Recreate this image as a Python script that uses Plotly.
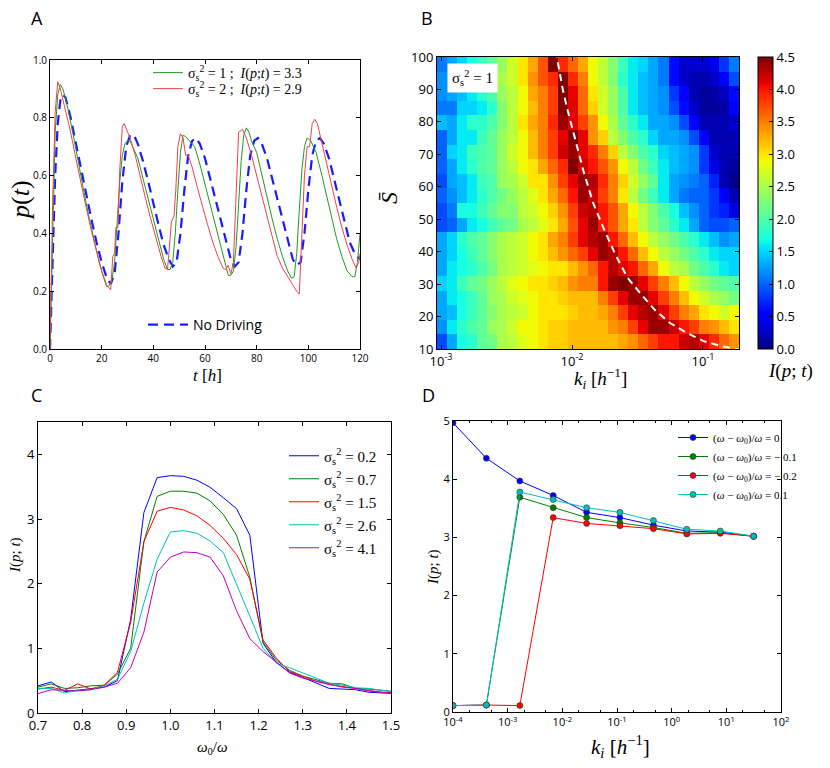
import numpy as np
import plotly.graph_objects as go

W, H = 830, 768
SANS = "Open Sans"
SERIF = "Liberation Serif"

# ----- Panel A: p(t) -----
t_green = [0, 0.5, 1, 2, 3, 4, 5, 7, 9, 11, 13, 15, 17, 19, 21, 22, 23, 24, 25, 26, 27, 28, 29, 30, 31, 32,
           34, 36, 38, 40, 42, 44, 45.5, 46.5, 47.5, 48.5, 49.5, 50.5, 51.5, 52.5, 54, 56, 58, 60, 62, 64,
           66, 68, 69, 70, 71, 72, 73, 74, 75, 76, 77, 78, 80, 82, 84, 86, 88, 90, 92, 93.5, 94.5, 95.5,
           96.5, 97.5, 98.5, 99.5, 101, 103, 105, 107, 109, 111, 113, 115, 117, 118, 119, 120]
p_green = [0.0, 0.2, 0.45, 0.75, 0.88, 0.915, 0.9, 0.83, 0.74, 0.64, 0.55, 0.46, 0.38, 0.30, 0.24, 0.215, 0.22,
           0.24, 0.30, 0.45, 0.58, 0.67, 0.71, 0.72, 0.72, 0.70, 0.66, 0.59, 0.52, 0.45, 0.38, 0.31, 0.275,
           0.275, 0.30, 0.40, 0.55, 0.68, 0.74, 0.735, 0.72, 0.70, 0.64, 0.57, 0.49, 0.42, 0.35, 0.28, 0.255,
           0.255, 0.27, 0.35, 0.50, 0.65, 0.74, 0.765, 0.75, 0.72, 0.68, 0.60, 0.52, 0.45, 0.38, 0.32, 0.27,
           0.245, 0.25, 0.33, 0.48, 0.62, 0.70, 0.73, 0.72, 0.68, 0.61, 0.53, 0.45, 0.38, 0.32, 0.27, 0.25,
           0.25, 0.30, 0.40]

t_red = [0, 0.5, 1, 2, 3, 4, 6, 8, 10, 12, 14, 16, 18, 20, 22, 23.5, 24.3, 25, 25.5, 26.3, 27, 28, 28.7, 29.5,
         31, 33, 35, 37, 39, 41, 43, 44.5, 45.5, 46.2, 47, 48, 48.7, 49.5, 50.5, 51.5, 52.5, 53.5, 55, 57, 59,
         61, 63, 65, 67, 68, 69, 70, 71, 72, 73, 74.5, 76, 78, 80, 82, 84, 86, 88, 90, 92, 94, 95.5, 96.5,
         97.5, 98.5, 99.5, 100.5, 101.5, 102.5, 103.5, 105, 107, 109, 111, 113, 115, 117, 118.5, 119.5, 120]
p_red = [0.0, 0.25, 0.5, 0.82, 0.925, 0.90, 0.83, 0.75, 0.66, 0.57, 0.49, 0.41, 0.34, 0.27, 0.22, 0.205, 0.32,
         0.33, 0.42, 0.42, 0.62, 0.77, 0.78, 0.76, 0.73, 0.67, 0.59, 0.52, 0.45, 0.38, 0.32, 0.28, 0.275, 0.35,
         0.44, 0.46, 0.55, 0.70, 0.745, 0.73, 0.67, 0.67, 0.63, 0.56, 0.49, 0.43, 0.37, 0.32, 0.28, 0.275, 0.29,
         0.26, 0.30, 0.55, 0.75, 0.76, 0.73, 0.67, 0.60, 0.52, 0.45, 0.38, 0.32, 0.28, 0.25, 0.22, 0.20, 0.19,
         0.40, 0.60, 0.70, 0.70, 0.78, 0.795, 0.78, 0.72, 0.64, 0.56, 0.49, 0.42, 0.36, 0.31, 0.28, 0.30, 0.33]

t_nodrive = [0, 1, 2, 3, 4, 5, 6, 8, 10, 12, 14, 16, 18, 20, 22, 23.5, 25, 26.5, 28, 29.5, 31, 32.5, 34, 36, 38,
             40, 42, 44, 46, 47.5, 49, 50.5, 52, 53.5, 55, 56.5, 58, 60, 62, 64, 66, 68, 70, 71.5, 73, 74.5,
             76, 77.5, 79, 80.5, 82, 84, 86, 88, 90, 92, 94, 95.5, 97, 98.5, 100, 101.5, 103, 104.5, 106, 108,
             110, 112, 114, 116, 118, 120]
p_nodrive = [0.0, 0.3, 0.6, 0.78, 0.86, 0.88, 0.87, 0.80, 0.71, 0.62, 0.53, 0.45, 0.37, 0.30, 0.245, 0.225,
             0.26, 0.40, 0.58, 0.70, 0.74, 0.74, 0.71, 0.65, 0.58, 0.50, 0.43, 0.36, 0.31, 0.285, 0.30, 0.40,
             0.55, 0.67, 0.72, 0.73, 0.71, 0.66, 0.59, 0.51, 0.44, 0.37, 0.31, 0.285, 0.30, 0.40, 0.55, 0.67,
             0.72, 0.73, 0.71, 0.66, 0.59, 0.51, 0.44, 0.37, 0.31, 0.29, 0.30, 0.40, 0.55, 0.67, 0.72, 0.73,
             0.71, 0.66, 0.59, 0.51, 0.44, 0.37, 0.33, 0.31]

# ----- Panel B: I(p;t) over k_i (30 cols) and S (20 rows, top row = S 100) -----
info_rows = [
    [1.1, 1.3, 1.5, 1.7, 1.9, 2.1, 2.4, 2.7, 3.0, 3.3, 3.7, 4.5, 3.9, 3.6, 3.3, 2.9, 2.6, 2.3, 1.9, 1.6, 1.5, 1.3, 1.1, 0.6, 0.3, 0.3, 0.3, 0.4, 0.8, 1.1],
    [1.2, 1.3, 1.5, 1.7, 1.9, 2.2, 2.5, 2.7, 3.0, 3.4, 3.7, 3.9, 4.5, 3.9, 3.5, 2.9, 2.6, 2.3, 1.8, 1.6, 1.4, 1.3, 1.1, 0.6, 0.3, 0.2, 0.2, 0.3, 0.5, 0.9],
    [1.2, 1.3, 1.4, 1.6, 1.8, 2.0, 2.4, 2.6, 2.9, 3.3, 3.5, 3.8, 4.5, 4.1, 3.6, 3.0, 2.7, 2.4, 2.0, 1.6, 1.4, 1.3, 1.2, 0.8, 0.5, 0.2, 0.1, 0.15, 0.25, 0.6],
    [1.1, 1.1, 1.5, 1.5, 1.6, 1.8, 2.3, 2.6, 2.9, 3.2, 3.5, 3.8, 4.5, 4.1, 3.6, 3.1, 2.7, 2.4, 2.0, 1.6, 1.4, 1.3, 1.2, 0.9, 0.6, 0.3, 0.1, 0.1, 0.15, 0.5],
    [1.4, 1.3, 1.6, 1.8, 1.8, 2.0, 2.3, 2.6, 3.0, 3.3, 3.5, 3.9, 4.4, 4.1, 3.8, 3.4, 2.9, 2.5, 2.1, 1.8, 1.6, 1.3, 1.3, 1.2, 0.9, 0.5, 0.2, 0.2, 0.2, 0.3],
    [1.0, 1.3, 1.6, 1.6, 1.9, 2.1, 2.4, 2.6, 2.9, 3.2, 3.5, 3.8, 4.1, 4.5, 4.1, 3.4, 3.1, 2.6, 2.3, 2.0, 1.8, 1.5, 1.3, 1.3, 1.2, 0.9, 0.5, 0.2, 0.2, 0.2],
    [1.0, 1.5, 1.6, 1.9, 2.0, 2.1, 2.4, 2.7, 2.9, 3.2, 3.5, 3.8, 4.2, 4.4, 4.1, 3.9, 3.5, 3.1, 2.6, 2.3, 2.0, 1.8, 1.5, 1.4, 1.3, 1.2, 0.8, 0.3, 0.2, 0.2],
    [1.0, 1.3, 1.6, 1.8, 2.0, 2.1, 2.4, 2.6, 2.9, 3.0, 3.3, 3.6, 3.9, 4.5, 4.2, 4.0, 3.7, 3.4, 2.9, 2.6, 2.2, 1.9, 1.6, 1.4, 1.3, 1.2, 0.8, 0.4, 0.2, 0.1],
    [0.9, 1.3, 1.4, 1.6, 1.9, 2.0, 2.4, 2.5, 2.7, 3.0, 3.0, 3.4, 3.8, 4.1, 4.4, 4.3, 3.9, 3.5, 3.1, 2.7, 2.4, 2.1, 1.6, 1.3, 1.2, 1.1, 1.0, 0.7, 0.2, 0.05],
    [1.0, 1.2, 1.4, 1.6, 1.8, 2.0, 2.2, 2.4, 2.6, 2.8, 3.0, 3.3, 3.6, 4.0, 4.4, 4.2, 3.8, 3.5, 3.0, 2.6, 2.2, 1.9, 1.6, 1.3, 1.1, 1.0, 1.0, 0.8, 0.5, 0.2],
    [0.9, 1.1, 1.7, 1.7, 1.9, 2.1, 2.3, 2.3, 2.6, 2.7, 2.9, 3.1, 3.4, 3.8, 4.2, 4.3, 4.0, 3.7, 3.3, 2.9, 2.6, 2.3, 2.0, 1.7, 1.4, 1.2, 1.0, 0.8, 0.7, 0.4],
    [0.9, 1.0, 1.3, 1.6, 1.7, 1.9, 2.1, 2.2, 2.5, 2.6, 2.8, 3.0, 3.3, 3.7, 4.1, 4.4, 4.0, 3.7, 3.3, 3.0, 2.6, 2.3, 2.1, 1.8, 1.6, 1.3, 1.0, 0.9, 0.9, 1.0],
    [1.3, 1.5, 1.8, 2.0, 2.1, 2.3, 2.5, 2.6, 2.7, 2.9, 3.0, 3.3, 3.5, 3.8, 4.1, 4.3, 4.4, 4.0, 3.6, 3.2, 2.9, 2.6, 2.4, 2.2, 2.0, 1.8, 1.6, 1.4, 1.2, 1.3],
    [1.3, 1.5, 1.7, 1.9, 2.1, 2.3, 2.5, 2.6, 2.7, 2.9, 3.0, 3.2, 3.4, 3.6, 3.8, 4.1, 4.4, 4.3, 4.0, 3.6, 3.2, 2.9, 2.6, 2.4, 2.2, 2.0, 1.8, 1.6, 1.5, 1.5],
    [1.3, 1.6, 1.7, 1.8, 2.0, 2.2, 2.5, 2.6, 2.7, 2.8, 2.9, 3.0, 3.0, 3.2, 3.4, 3.6, 4.0, 4.3, 4.1, 4.0, 3.6, 3.3, 2.9, 2.6, 2.5, 2.2, 2.0, 1.8, 1.6, 1.5],
    [1.5, 1.6, 1.9, 2.1, 2.2, 2.4, 2.6, 2.8, 2.9, 3.0, 3.0, 3.1, 3.2, 3.4, 3.5, 3.5, 4.0, 4.4, 4.6, 4.4, 4.1, 3.8, 3.5, 3.2, 2.9, 2.6, 2.4, 2.2, 2.1, 2.0],
    [1.3, 1.6, 1.7, 1.9, 2.1, 2.4, 2.5, 2.7, 2.8, 2.9, 3.0, 3.0, 3.1, 3.2, 3.2, 3.2, 3.5, 3.8, 4.1, 4.4, 4.4, 4.1, 3.8, 3.5, 3.2, 2.9, 2.7, 2.5, 2.4, 2.2],
    [1.3, 1.4, 1.7, 1.9, 2.1, 2.3, 2.5, 2.6, 2.7, 2.9, 3.0, 3.0, 3.0, 3.1, 3.2, 3.2, 3.3, 3.5, 3.8, 4.1, 4.3, 4.4, 4.1, 3.8, 3.5, 3.3, 3.0, 2.9, 2.7, 2.9],
    [1.2, 1.6, 1.8, 2.0, 2.1, 2.4, 2.5, 2.7, 2.9, 2.9, 3.0, 3.1, 3.1, 3.2, 3.2, 3.2, 3.2, 3.4, 3.5, 3.8, 4.1, 4.4, 4.4, 4.2, 4.0, 3.8, 3.5, 3.4, 3.2, 3.0],
    [0.9, 1.3, 1.7, 1.8, 2.1, 2.2, 2.5, 2.6, 2.8, 2.9, 3.0, 3.1, 3.1, 3.2, 3.2, 3.2, 3.2, 3.2, 3.3, 3.4, 3.6, 3.8, 4.0, 4.0, 4.2, 4.3, 4.1, 3.9, 3.6, 3.4],
]
k_curve = [0.0075, 0.0078, 0.0085, 0.0092, 0.0105, 0.0122, 0.0145, 0.0175, 0.0215, 0.0265, 0.0335,
           0.0430, 0.0560, 0.0750, 0.1000, 0.1400, 0.1900]
s_curve = [102, 98, 90, 84, 75, 65, 55, 47, 39, 32, 27, 22, 18, 15, 12.5, 10.8, 9.8]

# ----- Panel C: I(p;t) vs w0/w -----
w_ratio = [0.70, 0.73, 0.76, 0.79, 0.82, 0.85, 0.88, 0.91, 0.94, 0.97, 1.00, 1.03, 1.06, 1.09, 1.12, 1.15,
           1.18, 1.21, 1.24, 1.27, 1.30, 1.33, 1.36, 1.39, 1.42, 1.45, 1.48, 1.51]
sigma_labels = ["0.2", "0.7", "1.5", "2.6", "4.1"]
info_c = [
    [0.42, 0.48, 0.33, 0.35, 0.38, 0.40, 0.50, 1.45, 3.10, 3.64, 3.67, 3.66, 3.60, 3.49, 3.33, 3.16, 2.75, 1.08,
     0.78, 0.63, 0.55, 0.46, 0.38, 0.37, 0.36, 0.32, 0.31, 0.30],
    [0.40, 0.45, 0.38, 0.39, 0.42, 0.43, 0.60, 1.00, 2.65, 3.35, 3.43, 3.43, 3.40, 3.28, 3.07, 2.75, 2.10, 1.10,
     0.82, 0.66, 0.57, 0.51, 0.46, 0.45, 0.38, 0.37, 0.35, 0.33],
    [0.37, 0.40, 0.35, 0.45, 0.37, 0.43, 0.63, 1.40, 2.65, 3.12, 3.18, 3.14, 3.05, 2.90, 2.70, 2.45, 2.07, 1.13,
     0.85, 0.64, 0.57, 0.49, 0.44, 0.41, 0.37, 0.35, 0.32, 0.31],
    [0.38, 0.38, 0.31, 0.35, 0.36, 0.42, 0.52, 0.95, 1.70, 2.38, 2.80, 2.82, 2.78, 2.66, 2.48, 2.00, 1.50, 1.00,
     0.77, 0.70, 0.62, 0.54, 0.46, 0.43, 0.39, 0.38, 0.35, 0.32],
    [0.30, 0.36, 0.35, 0.34, 0.36, 0.40, 0.46, 0.70, 1.25, 2.18, 2.41, 2.49, 2.48, 2.41, 2.12, 1.58, 1.15, 0.95,
     0.79, 0.62, 0.54, 0.49, 0.44, 0.40, 0.38, 0.34, 0.32, 0.31],
]
colors_c = ["#0000ff", "#008000", "#ff0000", "#00bfbf", "#bf00bf"]

# ----- Panel D: I(p;t) vs k_i -----
k_d = [1.0e-4, 4.08e-4, 1.67e-3, 6.81e-3, 2.78e-2, 0.113, 0.464, 1.89, 7.74, 31.6]
detune_labels = ["0", "− 0.1", "− 0.2", "0.1"]
info_d = [
    [4.97, 4.36, 3.97, 3.72, 3.43, 3.34, 3.21, 3.11, 3.09, 3.02],
    [0.11, 0.12, 3.69, 3.51, 3.34, 3.25, 3.17, 3.07, 3.08, 3.02],
    [0.11, 0.12, 0.11, 3.34, 3.24, 3.20, 3.15, 3.06, 3.07, 3.02],
    [0.11, 0.12, 3.78, 3.65, 3.51, 3.43, 3.29, 3.14, 3.11, 3.02],
]
colors_d = ["#0000ff", "#008000", "#ff0000", "#00bfbf"]


def jet():
    r = [(0, 0), (0.35, 0), (0.66, 1), (0.89, 1), (1, 0.5)]
    g = [(0, 0), (0.125, 0), (0.375, 1), (0.64, 1), (0.91, 0), (1, 0)]
    b = [(0, 0.5), (0.11, 1), (0.34, 1), (0.65, 0), (1, 0)]
    stops = sorted({p for ch in (r, g, b) for p, _ in ch})
    scale = []
    for s in stops:
        rgb = [np.interp(s, [p for p, _ in ch], [v for _, v in ch]) for ch in (r, g, b)]
        scale.append([s, "rgb(%d,%d,%d)" % tuple(round(255 * c) for c in rgb)])
    return scale


def dx(a, b):
    return [a / W, b / W]


def dy(top, bottom):
    return [1 - bottom / H, 1 - top / H]


def legend_box(x, y, size, family=SERIF, width=30):
    # one legend per entry, centred vertically on pixel row y
    return dict(x=x / W, y=1 - y / H, xanchor="left", yanchor="middle", bgcolor="rgba(0,0,0,0)",
                font=dict(family=family, size=size, color="black"), itemwidth=width)


fig = go.Figure()
legends = {}

# A
fig.add_trace(go.Scatter(x=t_nodrive, y=p_nodrive, mode="lines", name="No Driving", legend="legend2",
                         line=dict(color="#1a1aff", width=2.2, dash="10px,6px"), xaxis="x", yaxis="y"))
legends["legend2"] = legend_box(143, 325, 14, family=SANS, width=40)
for i, (tt, pp, col, s2, info) in enumerate([(t_green, p_green, "#1f9a1f", "1", "3.3"),
                                             (t_red, p_red, "#f0404f", "2", "2.9")]):
    key = "legend" if i == 0 else "legend%d" % (5 + i)
    fig.add_trace(go.Scatter(x=tt, y=pp, mode="lines", legend=key,
                             name="σ<sub>s</sub><sup>2</sup> = %s ;  <i>I</i>(<i>p</i>;<i>t</i>) = %s" % (s2, info),
                             line=dict(color=col, width=1), xaxis="x", yaxis="y"))
    legends[key] = legend_box(148, 73 + 16 * i, 14)

# B
k_edges = np.logspace(-3.031, -0.725, len(info_rows[0]) + 1)
s_edges = np.linspace(10, 100, len(info_rows) + 1)
fig.add_trace(go.Heatmap(
    z=info_rows[::-1], x=k_edges, y=s_edges, zmin=0, zmax=4.5, colorscale=jet(), xaxis="x2", yaxis="y2",
    showlegend=False,
    colorbar=dict(x=758 / W, xanchor="left", y=1 - 349 / H, yanchor="bottom", len=292 / H, lenmode="fraction",
                  thickness=15, outlinecolor="black", outlinewidth=1, tickvals=[i * 0.5 for i in range(10)],
                  ticktext=["%.1f" % (i * 0.5) for i in range(10)], ticks="inside", ticklen=4,
                  tickcolor="black", tickfont=dict(family=SANS, size=13, color="black"), xpad=0, ypad=0)))
fig.add_trace(go.Scatter(x=k_curve, y=s_curve, mode="lines", showlegend=False,
                         line=dict(color="white", width=2, dash="7px,5px"), xaxis="x2", yaxis="y2"))

# C
for i, (lab, vals, col) in enumerate(zip(sigma_labels, info_c, colors_c)):
    key = "legend%d" % (10 + i)
    fig.add_trace(go.Scatter(x=w_ratio, y=vals, mode="lines", legend=key,
                             name="σ<sub>s</sub><sup>2</sup> = " + lab,
                             line=dict(color=col, width=1), xaxis="x3", yaxis="y3"))
    legends[key] = legend_box(284, 456 + 23 * i, 15)

# D
for lab, vals, col in zip(detune_labels, info_d, colors_d):
    fig.add_trace(go.Scatter(x=k_d, y=vals, mode="lines+markers", legend="legend4",
                             name="(<i>ω</i> − <i>ω</i><sub>0</sub>)/<i>ω</i> = " + lab,
                             line=dict(color=col, width=1),
                             marker=dict(color=col, size=6, line=dict(color="#333333", width=0.6)),
                             xaxis="x4", yaxis="y4"))

ax = dict(showline=True, linecolor="black", linewidth=1, mirror="ticks", ticks="inside", ticklen=4,
          tickcolor="black", showgrid=False, zeroline=False, automargin=False)

fig.update_layout(
    width=W, height=H, margin=dict(l=0, r=0, t=0, b=0, autoexpand=False),
    paper_bgcolor="white", plot_bgcolor="white",
    xaxis=dict(ax, domain=dx(50, 360), anchor="y", range=[0, 120], dtick=20,
               tickfont=dict(family=SANS, size=10, color="black")),
    yaxis=dict(ax, domain=dy(60, 349), anchor="x", range=[0, 1], dtick=0.2, tickformat=".1f",
               tickfont=dict(family=SANS, size=10, color="black")),
    xaxis2=dict(ax, domain=dx(437, 739), anchor="y2", type="log", range=[-3.031, -0.725],
                tickvals=[1e-3, 1e-2, 1e-1],
                ticktext=["10<sup>-3</sup>", "10<sup>-2</sup>", "10<sup>-1</sup>"],
                tickfont=dict(family=SANS, size=13, color="black")),
    yaxis2=dict(ax, domain=dy(57, 349), anchor="x2", range=[10, 100], dtick=10,
                tickfont=dict(family=SANS, size=13, color="black")),
    xaxis3=dict(ax, domain=dx(38, 391), anchor="y3", range=[0.7, 1.5], dtick=0.1, tickformat=".1f",
                tickfont=dict(family=SANS, size=13, color="black")),
    yaxis3=dict(ax, domain=dy(422, 713), anchor="x3", range=[0, 4.5], tickvals=[0, 1, 2, 3, 4],
                tickfont=dict(family=SANS, size=13, color="black")),
    xaxis4=dict(ax, domain=dx(453, 781), anchor="y4", type="log", range=[-4, 2],
                tickvals=[1e-4, 1e-3, 1e-2, 1e-1, 1e0, 1e1, 1e2],
                ticktext=["10<sup>-4</sup>", "10<sup>-3</sup>", "10<sup>-2</sup>", "10<sup>-1</sup>",
                          "10<sup>0</sup>", "10<sup>1</sup>", "10<sup>2</sup>"],
                minor=dict(ticks="inside", ticklen=2, tickcolor="black"),
                tickfont=dict(family=SANS, size=11, color="black")),
    yaxis4=dict(ax, domain=dy(421, 712), anchor="x4", range=[0, 5], dtick=1,
                tickfont=dict(family=SANS, size=11, color="black")),
    legend4=dict(x=673 / W, y=1 - 423 / H, xanchor="left", yanchor="top", bgcolor="rgba(0,0,0,0)",
                 font=dict(family=SERIF, size=11, color="black"), itemwidth=30),
    **legends,
)


def note(text, x, y, size, family=SERIF, angle=0, **kw):
    fig.add_annotation(text=text, x=x / W, y=1 - y / H, xref="paper", yref="paper", showarrow=False,
                       xanchor="center", yanchor="middle", textangle=angle,
                       font=dict(family=family, size=size, color="black"), **kw)


for lab, px, py in [("A", 37, 18), ("B", 427, 18), ("C", 36, 395), ("D", 428, 395)]:
    note(lab, px, py, 18, family=SANS)

note("<i>p</i>(<i>t</i>)", 20, 200, 26, angle=-90)
note("<i>t</i> [<i>h</i>]", 207, 376, 17)
note("<i>S̄</i>", 389, 198, 24, angle=-90)
note("<i>k</i><sub><i>i</i></sub> [<i>h</i><sup>−1</sup>]", 600, 378, 19)
note("<i>I</i>(<i>p</i>; <i>t</i>)", 790, 371, 19)
note("σ<sub>s</sub><sup>2</sup> = 1", 472, 78, 15, bgcolor="white", borderpad=4)
note("<i>I</i>(<i>p</i>; <i>t</i>)", 15, 555, 15, angle=-90)
note("<i>ω</i><sub>0</sub>/<i>ω</i>", 213, 748, 15)
note("<i>I</i>(<i>p</i>; <i>t</i>)", 433, 567, 15, angle=-90)
note("<i>k</i><sub><i>i</i></sub> [<i>h</i><sup>−1</sup>]", 620, 746, 21)

# drop the browser's default body margin so the 830x768 figure sits at the page origin
fig.write_html("out.html", config={"displayModeBar": False},
               post_script="document.body.style.margin='0px';")
